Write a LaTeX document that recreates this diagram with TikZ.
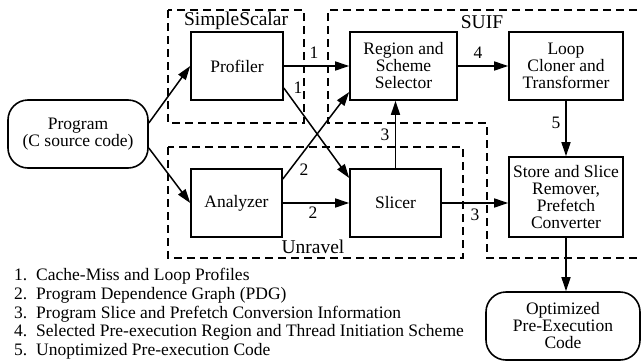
\documentclass[tikz,border=0pt]{standalone}
\usepackage{fontspec}
\setmainfont{Liberation Serif}
\usetikzlibrary{arrows.meta}
\begin{document}
\begin{tikzpicture}[x=1pt,y=-1pt,
  txt/.style={font=\fontsize{17.5}{17}\selectfont},
  box/.style={draw,line width=1.6pt,align=center,inner sep=0pt,txt},
  rbox/.style={box,rounded corners=20pt},
  grp/.style={draw,line width=1.6pt,dash pattern=on 8pt off 5pt},
  grplabel/.style={font=\fontsize{19.5}{20}\selectfont,inner sep=0pt},
  lab/.style={txt,inner sep=0pt},
  arr/.style={line width=1.5pt,-{Triangle[length=14pt,width=9pt]}},
  leg/.style={txt,anchor=base west,inner sep=0pt}]
\useasboundingbox (0,0) rectangle (642,362);

% group boxes
\draw[grp] (168,10) rectangle (304,123);
\draw[grp] (650,10) -- (328,10) -- (328,123) -- (487,123) -- (487,258) -- (650,258);
\draw[grp] (168,147) rectangle (463,258);
\node[grplabel] (gss) at (236,21) {SimpleScalar};
\node[grplabel] (gsuif) at (482,22) {SUIF};
\node[grplabel] (gunr) at (313,247) {Unravel};

% nodes
\node[rbox,minimum width=140pt,minimum height=68pt] (prog) at (78,134) {Program\\(C source code)};
\node[box,minimum width=92pt,minimum height=68pt] (prof) at (237,66) {Profiler};
\node[box,minimum width=107pt,minimum height=68pt] (reg) at (403.5,66) {Region and\\Scheme\\Selector};
\node[box,minimum width=114pt,minimum height=68pt] (loop) at (566,66) {Loop\\Cloner and\\Transformer};
\node[box,minimum width=114pt,minimum height=80pt] (store) at (566,197) {Store and Slice\\Remover,\\Prefetch\\Converter};
\node[box,minimum width=91pt,minimum height=68pt] (ana) at (236.5,203) {Analyzer};
\node[box,minimum width=91pt,minimum height=68pt] (slic) at (395.5,203) {Slicer};
\node[rbox,minimum width=154pt,minimum height=68pt] (opt) at (563,326) {Optimized\\Pre-Execution\\Code};

% connectors
\draw[arr] ([yshift=11pt]prog.east) -- (prof.west);
\draw[arr] ([yshift=-14pt]prog.east) -- (ana.west);
\draw[arr] (prof.east) -- (prof.east -| reg.west);
\draw[arr] ([yshift=-22pt]prof.east) -- ([yshift=25pt]slic.west);
\draw[arr] ([yshift=24pt]ana.east) -- ([yshift=-26pt]reg.west);
\draw[arr] (ana.east) -- (slic.west);
\draw[arr] (slic.north) -- (slic.north |- reg.south);
\draw[arr] (slic.east) -- (slic.east -| store.west);
\draw[arr] (reg.east) -- (loop.west);
\draw[arr] (loop.south) -- (store.north);
\draw[arr] (store.south) -- (store.south |- opt.north);

% connector labels
\node[lab] (l1a) at (314,53) {1};
\node[lab] (l1b) at (298,88) {1};
\node[lab] (l2a) at (304,170) {2};
\node[lab] (l2b) at (313,213) {2};
\node[lab] (l3a) at (385,135) {3};
\node[lab] (l3b) at (475,215) {3};
\node[lab] (l4) at (478,53) {4};
\node[lab] (l5) at (556,123) {5};

% legend
\node[leg] (g1) at (14,280) {\makebox[22pt][l]{1.}Cache-Miss and Loop Profiles};
\node[leg] (g2) at (14,299) {\makebox[22pt][l]{2.}Program Dependence Graph (PDG)};
\node[leg] (g3) at (14,318) {\makebox[22pt][l]{3.}Program Slice and Prefetch Conversion Information};
\node[leg] (g4) at (14,336.5) {\makebox[22pt][l]{4.}Selected Pre-execution Region and Thread Initiation Scheme};
\node[leg] (g5) at (14,355) {\makebox[22pt][l]{5.}Unoptimized Pre-execution Code};
\end{tikzpicture}
\end{document}
